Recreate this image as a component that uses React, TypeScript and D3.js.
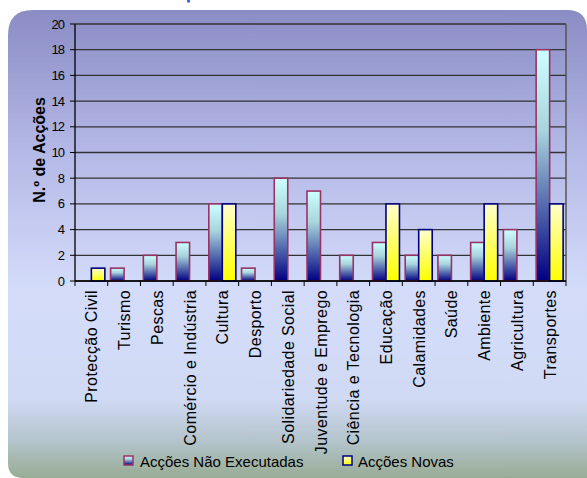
import React from "react";
import * as d3 from "d3";

const categories = [
  "Protecção Civil", "Turismo", "Pescas", "Comércio e Indústria", "Cultura", "Desporto",
  "Solidariedade Social", "Juventude e Emprego", "Ciência e Tecnologia", "Educação",
  "Calamidades", "Saúde", "Ambiente", "Agricultura", "Transportes",
];
const naoExecutadas = [0, 1, 2, 3, 6, 1, 8, 7, 2, 3, 2, 2, 3, 4, 18];
const novas = [1, 0, 0, 0, 6, 0, 0, 0, 0, 6, 4, 0, 6, 0, 6];
const yTicks = [0, 2, 4, 6, 8, 10, 12, 14, 16, 18, 20];
const seriesNames = ["Acções Não Executadas", "Acções Novas"];

export default function App() {
  const W = 587, H = 478;
  const left = 75, right = 566, top = 24, bottom = 281;
  const x = d3.scaleBand<string>().domain(categories).range([left, right]).paddingInner(0).paddingOuter(0);
  const y = d3.scaleLinear().domain([0, 20]).range([bottom, top]);
  const bw = x.bandwidth();
  const barW = 13.5;
  const font = "'Liberation Sans', Arial, sans-serif";

  return (
    <svg width={W} height={H} style={{ position: "absolute", left: 0, top: 0 }}>
      <defs>
        <linearGradient id="bg" x1="0" y1="0" x2="0" y2="1">
          <stop offset="0" stopColor="#8a8cc4" />
          <stop offset="0.3" stopColor="#b4b8e6" />
          <stop offset="0.6" stopColor="#d4dcfa" />
          <stop offset="0.83" stopColor="#d0daf4" />
          <stop offset="0.92" stopColor="#b4c4cc" />
          <stop offset="1" stopColor="#98ac94" />
        </linearGradient>
        <linearGradient id="gNao" x1="0" y1="0" x2="0" y2="1">
          <stop offset="0" stopColor="#ccffff" />
          <stop offset="0.35" stopColor="#a8d4dc" />
          <stop offset="1" stopColor="#000080" />
        </linearGradient>
        <linearGradient id="gNovas" x1="0" y1="0" x2="0" y2="1">
          <stop offset="0" stopColor="#ffffcc" />
          <stop offset="1" stopColor="#ffff00" />
        </linearGradient>
      </defs>
      <rect x={0} y={0} width={W} height={H} fill="#ffffff" />
      <path
        d={`M8,35 Q8,10 33,10 L567,10 Q587,10 587,30 L587,478 L23,478 Q8,478 8,463 Z`}
        fill="url(#bg)"
      />
      <rect x={187} y={0} width={3} height={2.5} fill="#3366ff" />

      {/* gridlines */}
      {yTicks.map((t) => (
        <line key={"g" + t} x1={left} x2={right} y1={y(t)} y2={y(t)} stroke="#333" strokeWidth={1.3} />
      ))}
      <line x1={right} x2={right} y1={top} y2={bottom} stroke="#555" strokeWidth={1.5} />

      {/* bars */}
      {categories.map((c, i) => {
        const cx = (x(c) as number) + bw / 2;
        return (
          <g key={c}>
            {naoExecutadas[i] > 0 && (
              <rect x={cx - barW} y={y(naoExecutadas[i])} width={barW} height={bottom - y(naoExecutadas[i])}
                fill="url(#gNao)" stroke="#993366" strokeWidth={1.6} />
            )}
            {novas[i] > 0 && (
              <rect x={cx} y={y(novas[i])} width={barW} height={bottom - y(novas[i])}
                fill="url(#gNovas)" stroke="#000080" strokeWidth={1.6} />
            )}
          </g>
        );
      })}

      {/* axes */}
      <line x1={left} x2={left} y1={top} y2={bottom} stroke="#000" strokeWidth={1.3} />
      <line x1={left} x2={right} y1={bottom} y2={bottom} stroke="#000" strokeWidth={1.3} />
      {yTicks.map((t) => (
        <g key={"t" + t}>
          <line x1={left - 5} x2={left} y1={y(t)} y2={y(t)} stroke="#000" />
          <text x={left - 11} y={y(t) + 4.5} textAnchor="end" fontFamily={font} fontSize={13}
            letterSpacing={-1} fill="#000">{t}</text>
        </g>
      ))}
      {categories.map((c, i) => (
        <line key={"xt" + i} x1={x(c) as number} x2={x(c) as number} y1={bottom} y2={bottom + 5} stroke="#000" />
      ))}
      <line x1={right} x2={right} y1={bottom} y2={bottom + 5} stroke="#000" />

      {categories.map((c) => {
        const cx = (x(c) as number) + bw / 2 + 6;
        return (
          <text key={"l" + c} transform={`translate(${cx},${bottom + 9}) rotate(-90)`} textAnchor="end"
            fontFamily={font} fontSize={16} letterSpacing={0.4} fill="#000">{c}</text>
        );
      })}

      <text transform={`translate(45,150) rotate(-90)`} textAnchor="middle"
        fontFamily={font} fontSize={16} fontWeight="bold" fill="#000">N.º de Acções</text>

      {/* legend */}
      <rect x={124} y={456} width={9} height={9} fill="url(#gNao)" stroke="#993366" strokeWidth={1.5} />
      <text x={140} y={467} fontFamily={font} fontSize={15} fill="#000">{seriesNames[0]}</text>
      <rect x={343} y={456} width={9} height={9} fill="url(#gNovas)" stroke="#000080" strokeWidth={1.5} />
      <text x={358} y={467} fontFamily={font} fontSize={15} fill="#000">{seriesNames[1]}</text>
    </svg>
  );
}
